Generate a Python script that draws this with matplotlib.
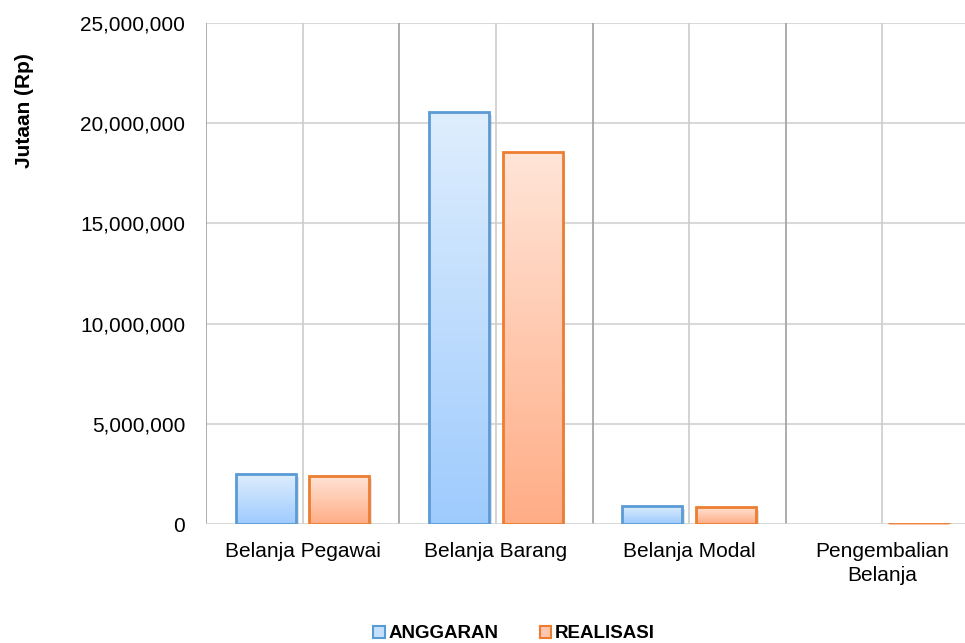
import matplotlib
matplotlib.use("Agg")
import matplotlib.pyplot as plt
import matplotlib.colors as mcolors
import matplotlib.patheffects as pe
from matplotlib.patches import Rectangle, Patch
from matplotlib.ticker import FuncFormatter
import numpy as np

plt.rcParams['font.family'] = ['Liberation Sans', 'DejaVu Sans']

categories = ['Belanja Pegawai', 'Belanja Barang', 'Belanja Modal', 'Pengembalian\nBelanja']
anggaran = [2500000, 20560000, 900000, 0]
realisasi = [2400000, 18570000, 850000, -40000]
series_names = ['ANGGARAN', 'REALISASI']
yticks = [0, 5000000, 10000000, 15000000, 20000000, 25000000]

# gradient (top colour, bottom colour) and edge colour per series
styles = [
    (('#dfeefe', '#9ecbfd'), '#5b9bd5'),
    (('#ffe5d8', '#ffad86'), '#ed7d31'),
]

fig = plt.figure(figsize=(9.65, 6.43), dpi=100)
ax = fig.add_axes([206 / 965, 1 - 524 / 643, 773 / 965, 501 / 643])

bar_w = 0.31
offsets = [-0.19, 0.19]
x = np.arange(len(categories))


def gradient_bar(ax, xc, val, colors, edge):
    x0 = xc - bar_w / 2
    y0, y1 = min(0, val), max(0, val)
    if y1 - y0 <= 0:
        return
    base = Rectangle((x0, y0), bar_w, y1 - y0, facecolor='white', edgecolor='none', zorder=3,
                     path_effects=[pe.SimplePatchShadow(offset=(2, -2), shadow_rgbFace='#888888', alpha=0.25),
                                   pe.Normal()])
    ax.add_patch(base)
    cmap = mcolors.LinearSegmentedColormap.from_list('g', [colors[0], colors[1]])
    grad = np.linspace(0, 1, 256).reshape(-1, 1)
    # row 0 (light colour) goes to the top of the bar
    im = ax.imshow(grad, cmap=cmap, extent=(x0, x0 + bar_w, y0, y1), origin='upper',
                   aspect='auto', zorder=4, interpolation='bilinear')
    im.set_clip_path(base)
    ax.add_patch(Rectangle((x0, y0), bar_w, y1 - y0, facecolor='none', edgecolor=edge,
                           linewidth=2, zorder=5))


for s, vals in enumerate([anggaran, realisasi]):
    for i, v in enumerate(vals):
        gradient_bar(ax, x[i] + offsets[s], v, styles[s][0], styles[s][1])

# grid lines
for yv in yticks[1:]:
    ax.axhline(yv, color='#d9d9d9', lw=1.5, zorder=1)
ax.axhline(0, color='#d0d0d0', lw=1.8, zorder=2)
for b in np.arange(-0.5, len(categories), 1.0):
    ax.axvline(b, color='#a6a6a6', lw=1.3, zorder=1)
for c in x:
    ax.axvline(c, color='#cccccc', lw=1.2, zorder=1)

ax.set_xlim(-0.5, len(categories) - 0.5)
ax.set_ylim(0, 25000000)
ax.set_yticks(yticks)
ax.yaxis.set_major_formatter(FuncFormatter(lambda v, p: f'{int(v):,}'))
ax.set_xticks(x)
ax.set_xticklabels(categories)
ax.tick_params(axis='both', length=0, labelsize=15, colors='black')
ax.tick_params(axis='y', pad=15)
ax.tick_params(axis='x', pad=13)
for lab in ax.get_xticklabels():
    lab.set_linespacing(1.3)
for sp in ax.spines.values():
    sp.set_visible(False)

fig.text(25 / 965, 1 - 111 / 643, 'Jutaan (Rp)', rotation=90, fontsize=15, fontweight='bold',
         ha='center', va='center')

handles = [Patch(facecolor='#c6e0fe', edgecolor=styles[0][1], linewidth=1.5),
           Patch(facecolor='#ffc7ad', edgecolor=styles[1][1], linewidth=1.5)]
fig.legend(handles, series_names, loc='center', bbox_to_anchor=(514 / 965, 1 - 634 / 643), ncol=2,
           frameon=False, handlelength=0.6, handleheight=0.6, handletextpad=0.2, columnspacing=2.2,
           prop={'size': 13.5, 'weight': 'bold'})

fig.savefig('out.png', dpi=100)
